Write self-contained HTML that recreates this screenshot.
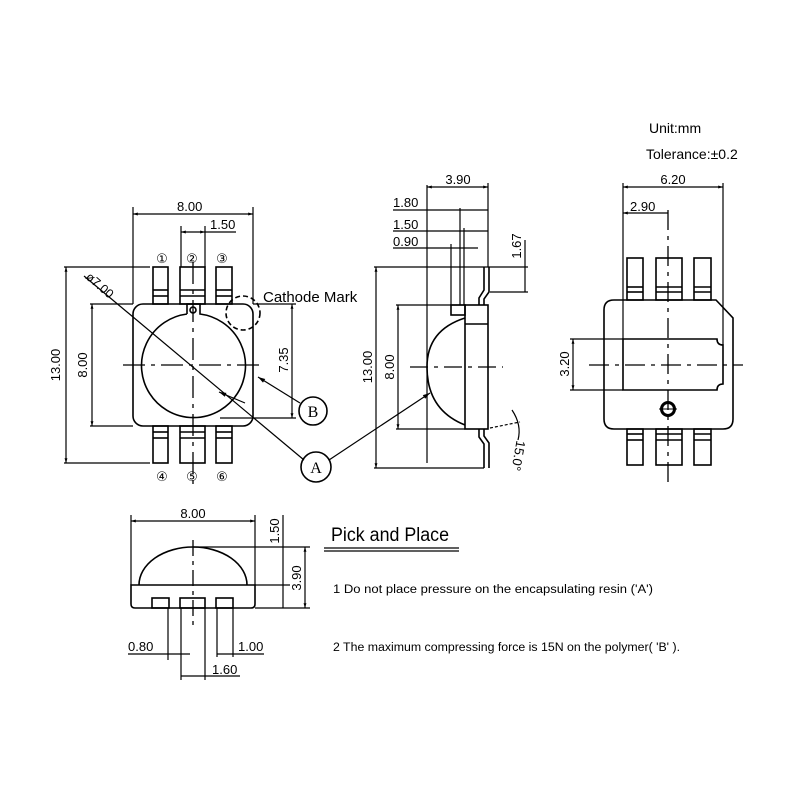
<!DOCTYPE html>
<html><head><style>body{margin:0;background:#fff}svg{display:block}</style></head><body>
<svg width="800" height="800" viewBox="0 0 800 800" xmlns="http://www.w3.org/2000/svg" font-family="Liberation Sans, sans-serif">
<defs>
<marker id="ar" viewBox="0 0 10 10" refX="10" refY="5" markerWidth="8" markerHeight="6" orient="auto-start-reverse"><path d="M0,2 L10,5 L0,8 z" fill="#000"/></marker>
<marker id="sa" viewBox="0 0 10 10" refX="10" refY="5" markerWidth="5" markerHeight="4" orient="auto-start-reverse"><path d="M0,2 L10,5 L0,8 z" fill="#000"/></marker>
</defs>
<rect width="800" height="800" fill="#fff"/>
<g stroke="#000" fill="none" stroke-width="1.6">
<!-- TOP VIEW -->
<rect x="133" y="304" width="120" height="122" rx="10"/>
<g>
<rect x="153" y="267" width="15" height="37"/><line x1="153" y1="290" x2="168" y2="290"/><line x1="153" y1="296" x2="168" y2="296"/>
<rect x="180" y="267" width="25" height="37"/><line x1="180" y1="290" x2="205" y2="290"/><line x1="180" y1="296" x2="205" y2="296"/>
<rect x="216" y="267" width="16" height="37"/><line x1="216" y1="290" x2="232" y2="290"/><line x1="216" y1="296" x2="232" y2="296"/>
<rect x="153" y="426" width="15" height="37"/><line x1="153" y1="432" x2="168" y2="432"/><line x1="153" y1="438" x2="168" y2="438"/>
<rect x="180" y="426" width="25" height="37"/><line x1="180" y1="432" x2="205" y2="432"/><line x1="180" y1="438" x2="205" y2="438"/>
<rect x="216" y="426" width="16" height="37"/><line x1="216" y1="432" x2="232" y2="432"/><line x1="216" y1="438" x2="232" y2="438"/>
</g>
<path d="M187,314 L187,304 L200,304 L200,314 A52,52 0 1 1 187,314"/>
<circle cx="193" cy="310" r="3"/>
<line x1="123" y1="365" x2="263" y2="365" stroke-dasharray="22,6,4,6" stroke-width="1.3"/>
<line x1="193" y1="262" x2="193" y2="484" stroke-dasharray="22,6,4,6" stroke-width="1.3"/>
<circle cx="243" cy="313" r="17" stroke-dasharray="5,3"/>
<g stroke-width="1.2">
<line x1="133" y1="214" x2="253" y2="214" marker-start="url(#sa)" marker-end="url(#sa)"/>
<line x1="133" y1="207" x2="133" y2="304"/><line x1="253" y1="207" x2="253" y2="304"/>
<line x1="181" y1="232" x2="205" y2="232" marker-start="url(#sa)" marker-end="url(#sa)"/>
<line x1="205" y1="232" x2="236" y2="232"/>
<line x1="181" y1="226" x2="181" y2="267"/><line x1="205" y1="226" x2="205" y2="267"/>
<line x1="66" y1="267" x2="66" y2="463" marker-start="url(#sa)" marker-end="url(#sa)"/>
<line x1="64" y1="267" x2="150" y2="267"/><line x1="64" y1="463" x2="150" y2="463"/>
<line x1="92" y1="304" x2="92" y2="426" marker-start="url(#sa)" marker-end="url(#sa)"/>
<line x1="90" y1="304" x2="133" y2="304"/><line x1="90" y1="426" x2="133" y2="426"/>
<line x1="292" y1="304" x2="292" y2="418" marker-start="url(#sa)" marker-end="url(#sa)"/>
<line x1="253" y1="304" x2="296" y2="304"/><line x1="220" y1="418" x2="296" y2="418"/>
<line x1="84" y1="276" x2="304" y2="460"/>
<line x1="245" y1="403" x2="219" y2="392" marker-end="url(#ar)"/>
<line x1="300" y1="403" x2="258" y2="377" marker-end="url(#ar)"/>
<line x1="329" y1="460" x2="430" y2="393" marker-end="url(#ar)"/>
</g>
<circle cx="313" cy="411" r="14"/>
<circle cx="316" cy="467" r="15"/>

<!-- SIDE VIEW -->
<rect x="465" y="305" width="23" height="124"/>
<line x1="465" y1="324" x2="488" y2="324"/>
<rect x="451" y="305" width="14" height="10"/>
<path d="M465,318 Q427,330 427,367 Q427,410 465,425"/>
<path d="M484,267 L484,290 L479,298 L479,305 M489,267 L489,292 L484,299 L484,305"/>
<path d="M479,429 L479,437 L484,444 L484,468 M484,429 L484,436 L489,443 L489,468"/>
<line x1="410" y1="367" x2="503" y2="367" stroke-dasharray="18,6,4,6" stroke-width="1.3"/>
<g stroke-width="1.2">
<line x1="427" y1="185" x2="427" y2="463"/><line x1="488" y1="183" x2="488" y2="267"/>
<line x1="427" y1="187" x2="488" y2="187" marker-start="url(#sa)" marker-end="url(#sa)"/>
<line x1="393" y1="210" x2="488" y2="210"/><line x1="460" y1="208" x2="460" y2="305"/>
<line x1="393" y1="231" x2="488" y2="231"/><line x1="464" y1="228" x2="464" y2="305"/>
<line x1="393" y1="248" x2="478" y2="248"/><line x1="451" y1="244" x2="451" y2="305"/>
<line x1="376" y1="267" x2="376" y2="468" marker-start="url(#sa)" marker-end="url(#sa)"/>
<line x1="374" y1="267" x2="528" y2="267"/><line x1="374" y1="468" x2="484" y2="468"/>
<line x1="398" y1="305" x2="398" y2="429" marker-start="url(#sa)" marker-end="url(#sa)"/>
<line x1="396" y1="305" x2="465" y2="305"/><line x1="396" y1="429" x2="465" y2="429"/>
<line x1="525" y1="240" x2="525" y2="292"/>
<line x1="490" y1="292" x2="528" y2="292"/>
<line x1="490" y1="428" x2="520" y2="422" stroke-dasharray="3,2"/>
<path d="M512,410 Q522,425 518,440"/>
</g>

<!-- RIGHT VIEW -->
<path d="M614,300 L716,300 L733,318 L733,419 Q733,429 723,429 L614,429 Q604,429 604,419 L604,310 Q604,300 614,300 Z"/>
<rect x="627" y="258" width="16" height="42"/><line x1="627" y1="287" x2="643" y2="287"/><line x1="627" y1="292" x2="643" y2="292"/>
<rect x="656" y="258" width="26" height="42"/><line x1="656" y1="287" x2="682" y2="287"/><line x1="656" y1="292" x2="682" y2="292"/>
<rect x="694" y="258" width="17" height="42"/><line x1="694" y1="287" x2="711" y2="287"/><line x1="694" y1="292" x2="711" y2="292"/>
<rect x="627" y="429" width="16" height="36"/><line x1="627" y1="434" x2="643" y2="434"/><line x1="627" y1="440" x2="643" y2="440"/>
<rect x="656" y="429" width="26" height="36"/><line x1="656" y1="434" x2="682" y2="434"/><line x1="656" y1="440" x2="682" y2="440"/>
<rect x="694" y="429" width="17" height="36"/><line x1="694" y1="434" x2="711" y2="434"/><line x1="694" y1="440" x2="711" y2="440"/>
<path d="M623,339 L717,339 Q717,345 723,345 L723,384 Q717,384 717,390 L623,390 Z"/>
<line x1="589" y1="365" x2="743" y2="365" stroke-dasharray="20,6,4,6" stroke-width="1.3"/>
<line x1="668" y1="210" x2="668" y2="482" stroke-dasharray="20,6,4,6" stroke-width="1.3"/>
<circle cx="668" cy="409" r="6.5" stroke-width="3"/>
<line x1="659" y1="409" x2="677" y2="409" stroke-width="1"/>
<g stroke-width="1.2">
<line x1="623" y1="183" x2="623" y2="339"/><line x1="723" y1="183" x2="723" y2="345"/>
<line x1="623" y1="187" x2="723" y2="187" marker-start="url(#sa)" marker-end="url(#sa)"/>
<line x1="623" y1="213" x2="668" y2="213" marker-start="url(#sa)"/>
<line x1="573" y1="339" x2="573" y2="390" marker-start="url(#sa)" marker-end="url(#sa)"/>
<line x1="570" y1="339" x2="623" y2="339"/><line x1="570" y1="390" x2="623" y2="390"/>
</g>

<!-- BOTTOM VIEW -->
<path d="M131,585 L255,585 L255,604 Q255,608 251,608 L135,608 Q131,608 131,604 Z"/>
<path d="M139,585 A54,38 0 0 1 247,585"/>
<rect x="152" y="598" width="17" height="10"/><rect x="180" y="598" width="25" height="10"/><rect x="216" y="598" width="17" height="10"/>
<line x1="193" y1="540" x2="193" y2="625" stroke-dasharray="16,5,4,5" stroke-width="1.3"/>
<g stroke-width="1.2">
<line x1="131" y1="515" x2="131" y2="585"/><line x1="255" y1="515" x2="255" y2="585"/>
<line x1="131" y1="521" x2="255" y2="521" marker-start="url(#sa)" marker-end="url(#sa)"/>
<line x1="193" y1="547" x2="310" y2="547"/><line x1="255" y1="585" x2="290" y2="585"/><line x1="255" y1="608" x2="310" y2="608"/>
<line x1="283" y1="515" x2="283" y2="608"/>
<line x1="305" y1="547" x2="305" y2="608" marker-start="url(#sa)" marker-end="url(#sa)"/>
<line x1="168" y1="608" x2="168" y2="660"/>
<line x1="181" y1="608" x2="181" y2="680"/>
<line x1="205" y1="608" x2="205" y2="680"/>
<line x1="217" y1="608" x2="217" y2="657"/>
<line x1="233" y1="608" x2="233" y2="657"/>
<line x1="128" y1="654" x2="190" y2="654"/>
<line x1="217" y1="654" x2="264" y2="654"/>
<line x1="181" y1="676" x2="240" y2="676"/>
</g>
<line x1="324" y1="548" x2="459" y2="548" stroke-width="1.3"/>
<line x1="324" y1="551" x2="459" y2="551" stroke-width="1.3"/>
</g>
<g fill="#000" font-size="13">
<text x="177" y="211">8.00</text>
<text x="210" y="229">1.50</text>
<text x="60" y="365" transform="rotate(-90 60 365)" text-anchor="middle">13.00</text>
<text x="87" y="365" transform="rotate(-90 87 365)" text-anchor="middle">8.00</text>
<text x="288" y="360" transform="rotate(-90 288 360)" text-anchor="middle">7.35</text>
<text x="85" y="278" transform="rotate(41 85 278)" font-size="12.5">ø7.00</text>
<text x="313" y="417" text-anchor="middle" font-family="Liberation Serif, serif" font-size="16">B</text>
<text x="316" y="473" text-anchor="middle" font-family="Liberation Serif, serif" font-size="16">A</text>
<text x="263" y="302" font-size="15">Cathode  Mark</text>
<g font-size="13" text-anchor="middle" font-family="DejaVu Sans, sans-serif">
<text x="162" y="263">①</text><text x="192" y="263">②</text><text x="222" y="263">③</text>
<text x="162" y="481">④</text><text x="192" y="481">⑤</text><text x="222" y="481">⑥</text>
</g>
<text x="458" y="184" text-anchor="middle">3.90</text>
<text x="393" y="207">1.80</text>
<text x="393" y="229">1.50</text>
<text x="393" y="246">0.90</text>
<text x="372" y="367" transform="rotate(-90 372 367)" text-anchor="middle">13.00</text>
<text x="394" y="367" transform="rotate(-90 394 367)" text-anchor="middle">8.00</text>
<text x="521" y="246" transform="rotate(-90 521 246)" text-anchor="middle">1.67</text>
<text x="514" y="455" transform="rotate(100 514 455)" text-anchor="middle">15.0°</text>
<text x="673" y="184" text-anchor="middle">6.20</text>
<text x="630" y="211">2.90</text>
<text x="569" y="364" transform="rotate(-90 569 364)" text-anchor="middle">3.20</text>
<text x="649" y="133" font-size="14">Unit:mm</text>
<text x="646" y="159" font-size="14">Tolerance:±0.2</text>
<text x="193" y="518" text-anchor="middle">8.00</text>
<text x="279" y="531" transform="rotate(-90 279 531)" text-anchor="middle">1.50</text>
<text x="301" y="578" transform="rotate(-90 301 578)" text-anchor="middle">3.90</text>
<text x="128" y="651">0.80</text>
<text x="238" y="651">1.00</text>
<text x="212" y="674">1.60</text>
<text x="331" y="541" font-size="19" textLength="118" lengthAdjust="spacingAndGlyphs">Pick and Place</text>
<text x="333" y="593" font-size="11.5" textLength="320" lengthAdjust="spacingAndGlyphs">1  Do not place pressure on the encapsulating resin ('A')</text>
<text x="333" y="651" font-size="11.5" textLength="347" lengthAdjust="spacingAndGlyphs">2  The maximum compressing force is 15N on the polymer( 'B' ).</text>
</g>
</svg>
</body></html>
